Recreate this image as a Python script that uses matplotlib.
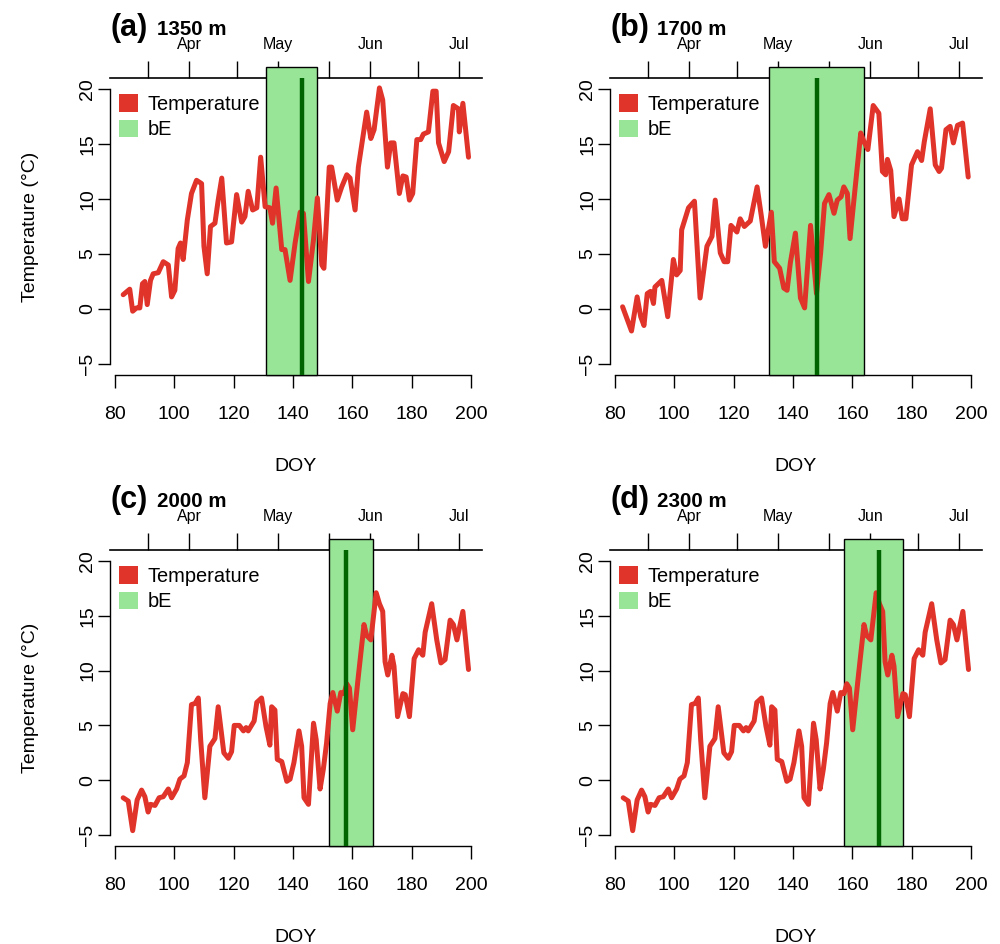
import matplotlib
matplotlib.use("Agg")
import matplotlib.pyplot as plt
from matplotlib.patches import Patch, Rectangle

plt.rcParams['font.family'] = ['Liberation Sans', 'DejaVu Sans']

# ---------------- data ----------------
doy_a = [82.8, 85.0, 86.0, 87.3, 88.4, 89.3, 90.1, 90.9, 92.0, 92.9, 94.6, 96.3, 98.0, 99.1, 100.2,
         101.3, 102.1, 103.0, 104.4, 105.8, 107.5, 109.2, 110.0, 111.1, 112.2, 113.7, 114.8, 116.0,
         117.6, 119.3, 121.0, 122.7, 123.8, 124.9, 126.4, 127.8, 129.1, 130.6, 132.2, 133.1, 134.3,
         136.2, 137.3, 139.0, 140.7, 142.4, 143.5, 145.2, 146.9, 148.2, 149.7, 150.4, 152.2, 153.0,
         154.9, 156.4, 158.1, 159.2, 160.9, 162.0, 164.8, 166.2, 167.3, 169.1, 170.2, 171.8, 172.9,
         174.0, 175.8, 177.0, 178.1, 179.2, 180.3, 181.7, 183.0, 183.9, 185.6, 187.1, 188.2, 189.0,
         190.9, 192.4, 194.0, 195.7, 196.0, 197.2, 199.1]
temp_a = [1.3, 1.8, -0.2, 0.1, 0.1, 2.3, 2.5, 0.4, 2.6, 3.2, 3.3, 4.3, 4.0, 1.1, 1.7,
          5.5, 6.0, 4.5, 8.1, 10.5, 11.7, 11.4, 5.7, 3.2, 7.5, 7.8, 9.9, 11.9,
          6.0, 6.1, 10.4, 7.9, 8.4, 10.7, 9.0, 9.2, 13.8, 9.3, 9.2, 7.8, 11.0,
          5.4, 5.4, 2.6, 6.0, 8.8, 8.7, 2.5, 6.3, 10.1, 4.0, 3.7, 12.9, 12.9,
          9.9, 11.1, 12.2, 11.9, 9.0, 12.9, 17.9, 15.5, 16.3, 20.1, 19.0, 12.9, 15.1,
          15.1, 10.5, 12.1, 12.0, 9.9, 10.5, 15.4, 15.4, 15.9, 16.1, 19.8, 19.8, 15.1,
          13.4, 14.3, 18.5, 18.2, 16.1, 18.7, 13.8]

doy_b = [82.6, 85.6, 87.5, 88.7, 89.8, 90.9, 92.0, 93.0, 93.5, 95.8, 97.8, 99.7, 100.8, 102.0,
         102.5, 104.8, 106.8, 108.7, 111.0, 112.7, 113.8, 115.5, 116.8, 118.0, 119.1, 121.1,
         122.2, 123.6, 125.6, 127.9, 129.3, 130.7, 132.7, 133.7, 135.5, 136.9, 138.0, 139.1,
         140.8, 142.5, 143.9, 145.9, 147.9, 149.3, 150.6, 152.1, 153.8, 154.9, 156.2, 157.1,
         158.3, 159.2, 160.5, 162.8, 163.9, 165.2, 167.0, 168.9, 170.1, 171.2, 171.8, 172.9,
         174.0, 175.7, 176.8, 178.0, 179.9, 181.9, 183.3, 184.2, 186.2, 187.9, 189.2, 190.0,
         191.5, 192.9, 194.0, 195.4, 197.1, 199.0]
temp_b = [0.2, -2.0, 1.1, -0.7, -1.5, 1.4, 1.6, 0.5, 2.0, 2.6, -0.7, 4.5, 3.1, 3.5,
          7.2, 9.2, 9.8, 1.0, 5.7, 6.6, 9.9, 5.1, 4.3, 4.3, 7.6, 7.0,
          8.2, 7.5, 8.0, 11.1, 8.5, 5.7, 8.8, 4.3, 3.7, 1.9, 1.7, 4.2,
          6.9, 1.0, 0.1, 7.6, 1.4, 5.1, 9.6, 10.4, 8.7, 9.9, 10.2, 11.1,
          10.5, 6.4, 9.9, 16.0, 15.2, 14.5, 18.5, 17.8, 12.5, 12.2, 13.6, 12.6,
          8.4, 10.0, 8.2, 8.2, 13.1, 14.3, 13.5, 15.2, 18.2, 13.1, 12.5, 12.8,
          16.3, 16.6, 15.1, 16.7, 16.9, 12.0]

doy_cd = [82.8, 84.5, 86.0, 87.5, 89.0, 90.1, 91.2, 92.0, 93.5, 94.9, 96.3, 98.0, 99.1, 100.8,
          101.9, 103.3, 104.4, 105.8, 107.0, 108.1, 108.9, 110.3, 112.0, 113.7, 114.8, 116.7,
          118.2, 119.3, 120.2, 121.9, 123.3, 124.2, 124.9, 126.9, 127.8, 129.4, 130.9, 132.2,
          132.8, 133.9, 134.7, 136.2, 137.9, 139.0, 140.3, 142.0, 142.9, 143.7, 145.2, 146.9,
          147.8, 149.1, 150.2, 151.3, 152.5, 153.4, 154.9, 156.1, 157.2, 158.1, 159.0, 160.1,
          162.0, 163.9, 164.8, 166.2, 168.0, 169.1, 170.2, 171.0, 171.9, 173.3, 174.0, 175.2,
          177.0, 177.8, 179.2, 180.8, 182.3, 183.7, 184.5, 186.7, 188.4, 189.8, 191.2, 192.9,
          194.0, 195.2, 197.2, 199.1]
temp_cd = [-1.6, -1.9, -4.6, -1.8, -0.9, -1.5, -2.9, -2.2, -2.3, -1.6, -1.5, -0.8, -1.6, -0.8,
           0.1, 0.4, 1.6, 6.9, 7.0, 7.5, 3.7, -1.6, 3.1, 3.8, 6.7, 2.5,
           2.0, 2.6, 5.0, 5.0, 4.5, 4.8, 4.5, 5.4, 7.1, 7.5, 4.9, 3.2,
           6.7, 6.4, 1.9, 1.7, -0.1, 0.1, 1.6, 4.5, 3.1, -1.6, -2.2, 5.2,
           3.7, -0.8, 1.0, 3.4, 7.0, 8.0, 6.3, 8.0, 7.9, 8.8, 8.4, 4.6,
           9.5, 14.2, 13.2, 12.8, 17.1, 16.1, 15.4, 10.8, 9.6, 11.4, 10.4, 5.8,
           7.9, 7.8, 5.8, 11.1, 11.9, 11.4, 13.5, 16.1, 12.8, 10.7, 11.0, 14.6,
           14.2, 12.8, 15.4, 10.1]

panel_letters = ['(a)', '(b)', '(c)', '(d)']
panel_elev = ['1350 m', '1700 m', '2000 m', '2300 m']
be_start = [131, 132, 152, 157]
be_end = [148, 164, 167, 177]
be_peak = [143, 148, 158, 169]

month_ticks = [91, 105, 121, 135, 152, 166, 182, 196]
month_labels = ['', 'Apr', '', 'May', '', 'Jun', '', 'Jul']
x_ticks = [80, 100, 120, 140, 160, 180, 200]
y_ticks = [-5, 0, 5, 10, 15, 20]

series = [(doy_a, temp_a), (doy_b, temp_b), (doy_cd, temp_cd), (doy_cd, temp_cd)]

RED = '#E0332A'
LGREEN = '#98E598'
DGREEN = '#006400'

W, H = 1000, 944
fig = plt.figure(figsize=(W / 100, H / 100), dpi=100)

# axes positions in pixels (left, top, right, bottom)
pos_px = [(110, 78, 482, 375), (610, 78, 982, 375),
          (110, 550, 482, 846), (610, 550, 982, 846)]

for i, (l, t, r, b) in enumerate(pos_px):
    ax = fig.add_axes([l / W, 1 - b / H, (r - l) / W, (b - t) / H])
    ax.set_xlim(78.36, 203.64)
    ax.set_ylim(-6.0, 21.0)
    ax.patch.set_alpha(0)
    for s in ['top', 'right']:
        ax.spines[s].set_visible(False)
    ax.spines['left'].set_bounds(-5, 20)
    ax.spines['bottom'].set_bounds(80, 200)
    ax.spines['left'].set_linewidth(1.0)
    ax.spines['bottom'].set_linewidth(1.0)
    ax.set_xticks(x_ticks)
    ax.set_yticks(y_ticks)
    ax.set_yticklabels([str(v).replace('-', '\u2212') for v in y_ticks])
    ax.tick_params(axis='both', direction='out', length=9, width=1.0,
                   labelsize=14, colors='black')
    ax.tick_params(axis='x', pad=13.5)
    ax.tick_params(axis='y', pad=1, labelrotation=90)
    for lab in ax.get_yticklabels():
        lab.set_va('center')
    ax.set_xlabel('DOY', fontsize=14, labelpad=25)
    if i in (0, 2):
        ax.set_ylabel('Temperature (\u00b0C)', fontsize=14, labelpad=29)

    # top month axis
    sec = ax.secondary_xaxis('top')
    sec.set_xticks(month_ticks)
    sec.set_xticklabels(month_labels)
    sec.tick_params(direction='out', length=12, width=1.0, labelsize=11.5, pad=7)
    sec.spines['top'].set_linewidth(1.2)

    # bE window
    rect = Rectangle((be_start[i], -6.0), be_end[i] - be_start[i], 28.0,
                     facecolor=LGREEN, edgecolor='black', linewidth=1.0,
                     clip_on=False, zorder=5)
    ax.add_patch(rect)

    x, y = series[i]
    ax.plot(x, y, color=RED, linewidth=3.6, zorder=6, solid_joinstyle='round',
            solid_capstyle='round')
    ax.plot([be_peak[i], be_peak[i]], [21.0, -6.0], color=DGREEN, linewidth=3.2,
            zorder=7, clip_on=False, solid_capstyle='butt')

    handles = [Patch(facecolor=RED, edgecolor='none', label='Temperature'),
               Patch(facecolor=LGREEN, edgecolor='none', label='bE')]
    ax.legend(handles=handles, loc='upper left', bbox_to_anchor=(0.025, 0.945),
              frameon=False, fontsize=14.4, handlelength=0.95, handleheight=0.95,
              handletextpad=0.45, labelspacing=0.3, borderpad=0, borderaxespad=0)

    fig.text(l / W, 1 - (t - 42) / H, panel_letters[i], fontsize=22, fontweight='bold',
             ha='left', va='baseline')
    fig.text((l + 47) / W, 1 - (t - 43) / H, panel_elev[i], fontsize=14.8,
             fontweight='bold', ha='left', va='baseline')

fig.savefig('out.png', dpi=100)
